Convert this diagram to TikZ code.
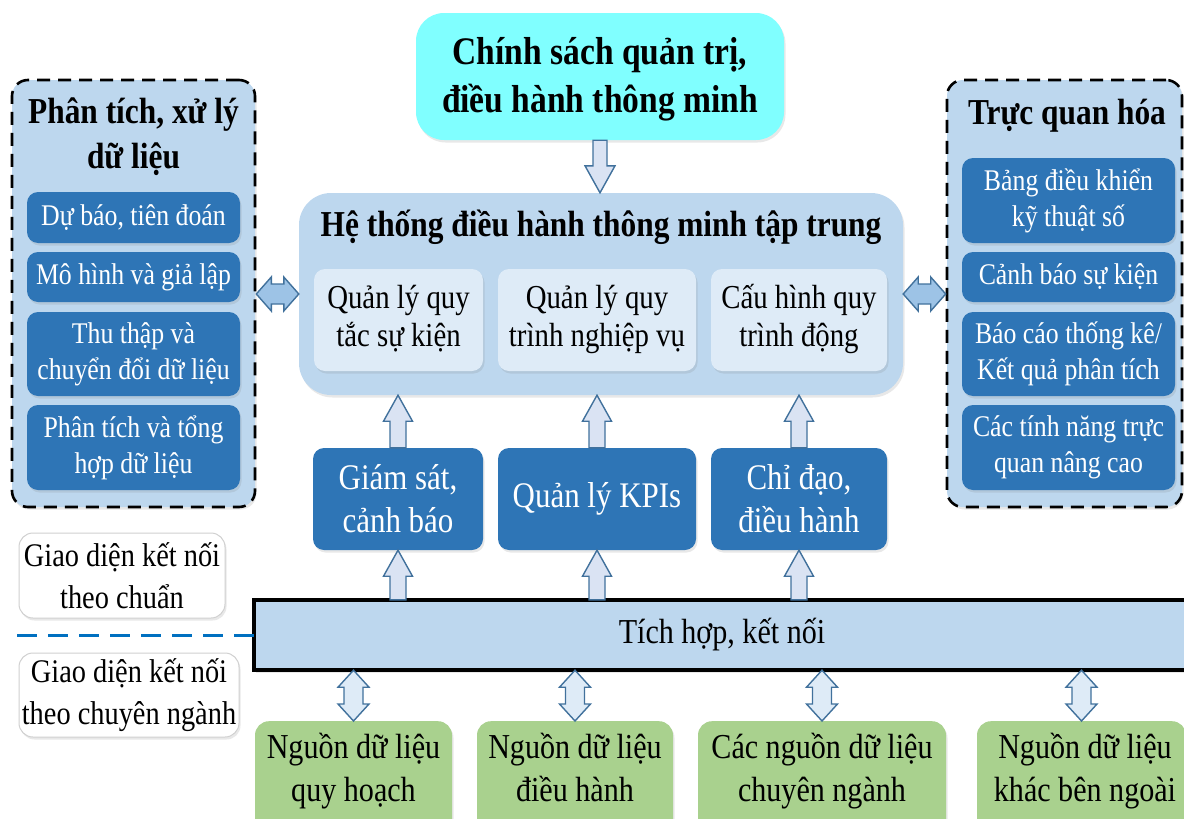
\documentclass[tikz,border=0pt]{standalone}
\usepackage{fontspec}
\setmainfont{Liberation Serif}[FakeStretch=0.86]
\usetikzlibrary{calc,shadows}
\definecolor{panelblue}{HTML}{BDD7EE}
\definecolor{dblue}{HTML}{2E75B6}
\definecolor{lblue}{HTML}{DEEBF7}
\definecolor{cyanbox}{HTML}{80FFFF}
\definecolor{greenbox}{HTML}{A9D18E}
\definecolor{arrowline}{HTML}{41719C}
\definecolor{arrowfill}{HTML}{DAE3F3}
\definecolor{arrowmid}{HTML}{9DC3E6}
\definecolor{dashblue}{HTML}{0070C0}
\definecolor{graybord}{HTML}{D0D0D0}
\newcommand\upblk[2]{%
  \path[blkup] let \p1=#1, \p2=#2 in
    (\x1-8pt,\y1) -- (\x1-8pt,\y2-26pt) -- (\x1-14.5pt,\y2-26pt) -- (\x1,\y2)
    -- (\x1+14.5pt,\y2-26pt) -- (\x1+8pt,\y2-26pt) -- (\x1+8pt,\y1) -- cycle;}
\newcommand\downblk[2]{%
  \path[blkup] let \p1=#1, \p2=#2 in
    (\x1-7pt,\y1) -- (\x1-7pt,\y2+27pt) -- (\x1-15pt,\y2+27pt) -- (\x1,\y2)
    -- (\x1+15pt,\y2+27pt) -- (\x1+7pt,\y2+27pt) -- (\x1+7pt,\y1) -- cycle;}
\newcommand\vdblk[2]{%
  \path[blkv] let \p1=#1, \p2=#2 in
    (\x1,\y1) -- (\x1+15.5pt,\y1-17pt) -- (\x1+9.5pt,\y1-17pt) -- (\x1+9.5pt,\y2+17pt)
    -- (\x1+15.5pt,\y2+17pt) -- (\x1,\y2) -- (\x1-15.5pt,\y2+17pt) -- (\x1-9.5pt,\y2+17pt)
    -- (\x1-9.5pt,\y1-17pt) -- (\x1-15.5pt,\y1-17pt) -- cycle;}
\newcommand\hdblk[2]{%
  \path[blkh] let \p1=#1, \p2=#2 in
    (\x1,\y1) -- (\x1+15pt,\y1+17pt) -- (\x1+15pt,\y1+10pt) -- (\x2-15pt,\y1+10pt)
    -- (\x2-15pt,\y1+17pt) -- (\x2,\y1) -- (\x2-15pt,\y1-17pt) -- (\x2-15pt,\y1-10pt)
    -- (\x1+15pt,\y1-10pt) -- (\x1+15pt,\y1-17pt) -- cycle;}
\begin{document}
\begin{tikzpicture}[x=1pt,y=-1pt,
  shad/.style={drop shadow={opacity=0.18,shadow xshift=1.5pt,shadow yshift=-2.5pt}},
  panel/.style={draw=black,line width=2.6pt,dash pattern=on 13pt off 8pt,fill=panelblue,rounded corners=16pt,shad},
  sidebox/.style={fill=dblue,rounded corners=11pt,text=white,align=center,inner sep=0pt,
    minimum width=213pt,font=\fontsize{30}{36}\selectfont,shad},
  midbox/.style={fill=dblue,rounded corners=11pt,text=white,align=center,inner sep=0pt,
    minimum height=102pt,font=\fontsize{36}{43}\selectfont,shad},
  innerbox/.style={fill=lblue,rounded corners=11pt,align=center,inner sep=0pt,
    minimum height=102pt,font=\fontsize{33.5}{38}\selectfont,text depth=9pt,shad},
  titletext/.style={align=center,inner sep=0pt,font=\fontsize{36.5}{45}\selectfont\bfseries},
  graybox/.style={fill=white,draw=graybord,line width=1pt,rounded corners=14pt,align=center,
    inner sep=0pt,font=\fontsize{33}{42}\selectfont,shad},
  gbox/.style={fill=greenbox,rounded corners=14pt,inner sep=0pt,anchor=north,minimum height=130pt,shad},
  gtext/.style={align=center,inner sep=0pt,font=\fontsize{35}{43}\selectfont,text depth=9pt},
  blkup/.style={draw=arrowline,line width=1.4pt,fill=arrowfill,line join=miter},
  blkv/.style={draw=arrowline,line width=1.4pt,fill=lblue,line join=miter},
  blkh/.style={draw=arrowline,line width=1.4pt,fill=arrowmid,line join=miter}]
\useasboundingbox (0,0) rectangle (1184,819);

% top policy box
\node[fill=cyanbox,rounded corners=28pt,minimum width=368pt,minimum height=127pt,inner sep=0pt,
  align=center,font=\fontsize{39}{48}\selectfont\bfseries,text depth=4pt,shad] (pol) at (600,76.5)
  {Chính sách quản trị,\\điều hành thông minh};

% central system box
\node[fill=panelblue,rounded corners=32pt,minimum width=604pt,minimum height=202pt,shad] (cbox) at (601,294) {};
\node[titletext] (ctitle) at (601,227) {Hệ thống điều hành thông minh tập trung};
\node[innerbox,minimum width=169pt] (ia) at (398.5,320) {Quản lý quy\\tắc sự kiện};
\node[innerbox,minimum width=198pt] (ib) at (597,320) {Quản lý quy\\trình nghiệp vụ};
\node[innerbox,minimum width=176pt] (ic) at (799,320) {Cấu hình quy\\trình động};

% left panel
\node[panel,minimum width=243pt,minimum height=427pt] (lp) at (133.5,293.5) {};
\node[titletext] (lpt) at (133.5,137) {Phân tích, xử lý\\dữ liệu};
\node[sidebox,minimum height=51pt] (l1) at (133.5,217.5) {Dự báo, tiên đoán};
\node[sidebox,minimum height=50pt] (l2) at (133.5,277) {Mô hình và giả lập};
\node[sidebox,minimum height=84pt] (l3) at (133.5,354) {Thu thập và\\chuyển đổi dữ liệu};
\node[sidebox,minimum height=85pt] (l4) at (133.5,447.5) {Phân tích và tổng\\hợp dữ liệu};

% right panel
\node[panel,minimum width=235pt,minimum height=427pt] (rp) at (1064.5,293.5) {};
\node[titletext] (rpt) at (1067,116) {Trực quan hóa};
\node[sidebox,minimum height=85pt] (r1) at (1068.5,200.5) {Bảng điều khiển\\kỹ thuật số};
\node[sidebox,minimum height=50pt] (r2) at (1068.5,277) {Cảnh báo sự kiện};
\node[sidebox,minimum height=84pt] (r3) at (1068.5,354) {Báo cáo thống kê/\\Kết quả phân tích};
\node[sidebox,minimum height=85pt] (r4) at (1068.5,447.5) {Các tính năng trực\\quan nâng cao};

% middle boxes
\node[midbox,minimum width=170pt] (ma) at (398,499) {Giám sát,\\cảnh báo};
\node[midbox,minimum width=198pt] (mb) at (597,499) {Quản lý KPIs};
\node[midbox,minimum width=176pt] (mc) at (799,499) {Chỉ đạo,\\điều hành};

% integration bar (open to the right edge)
\node[fill=panelblue,minimum width=990pt,minimum height=70pt,inner sep=0pt,
  anchor=west,shad] (bar) at (254,635) {};
\draw[black,line width=4pt,line join=miter] (bar.north east) -- (bar.north west)
  -- (bar.south west) -- (bar.south east);
\node[inner sep=0pt,font=\fontsize{35}{42}\selectfont] (bart) at (722,635) {Tích hợp, kết nối};

% interface labels
\node[graybox,minimum width=206pt,minimum height=85pt] (gi1) at (122,575.5) {Giao diện kết nối\\theo chuẩn};
\node[graybox,minimum width=220pt,minimum height=84pt] (gi2) at (129,695) {Giao diện kết nối\\theo chuyên ngành};
\coordinate (dl) at (17,635);
\draw[dashblue,line width=3pt,dash pattern=on 20pt off 11pt] (dl) -- (bar.west);

% data sources
\node[gbox,minimum width=197pt] (s1) at (353.5,721) {};
\node[gbox,minimum width=196pt] (s2) at (575,721) {};
\node[gbox,minimum width=248pt] (s3) at (822,721) {};
\node[gbox,minimum width=209pt] (s4) at (1081.5,721) {};
\node[gtext] (s1t) at (353.5,772) {Nguồn dữ liệu\\quy hoạch};
\node[gtext] (s2t) at (575,772) {Nguồn dữ liệu\\điều hành};
\node[gtext] (s3t) at (822,772) {Các nguồn dữ liệu\\chuyên ngành};
\node[gtext] (s4t) at (1085,772) {Nguồn dữ liệu\\khác bên ngoài};

% arrows
\downblk{(pol.south)}{(cbox.north)}
\upblk{(ma.north)}{(ma.north |- cbox.south)}
\upblk{(mb.north)}{(mb.north |- cbox.south)}
\upblk{(mc.north)}{(mc.north |- cbox.south)}
\upblk{(ma.south |- bar.north)}{(ma.south)}
\upblk{(mb.south |- bar.north)}{(mb.south)}
\upblk{(mc.south |- bar.north)}{(mc.south)}
\hdblk{(lp.east |- cbox.west)}{(cbox.west)}
\hdblk{(cbox.east)}{(rp.west |- cbox.east)}
\vdblk{(s1.north |- bar.south)}{(s1.north)}
\vdblk{(s2.north |- bar.south)}{(s2.north)}
\vdblk{(s3.north |- bar.south)}{(s3.north)}
\vdblk{(s4.north |- bar.south)}{(s4.north)}
\end{tikzpicture}
\end{document}
